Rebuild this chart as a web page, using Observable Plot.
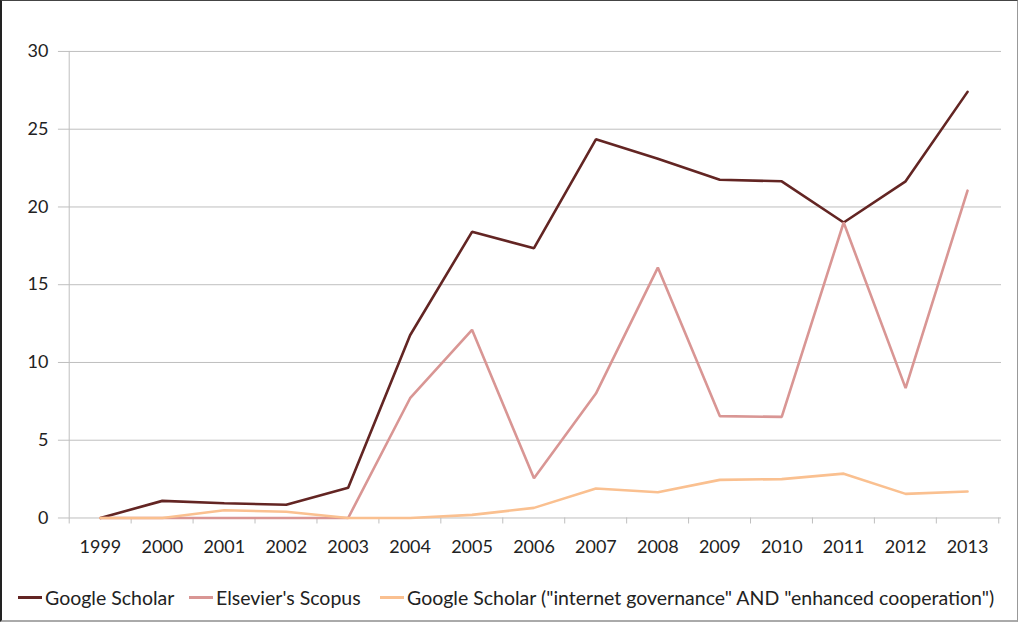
<!DOCTYPE html>
<html>
<head>
<meta charset="utf-8">
<script src="https://cdn.jsdelivr.net/npm/d3@7"></script>
<script src="https://cdn.jsdelivr.net/npm/@observablehq/plot@0.6"></script>
<style>
  html, body { margin: 0; padding: 0; background: #fff; }
  #frame { position: relative; width: 1015px; height: 619px; border-left: 2px solid #222; border-top: 1px solid #444; border-right: 1px solid #999; border-bottom: 2px solid #aaa; overflow: hidden; font-family: Lato, "Open Sans", sans-serif; }
  #chart { position: absolute; left: -2px; top: -1px; }
  .leg { position: absolute; top: 584px; height: 24px; font-size: 19.5px; color: #222; display: flex; align-items: center; white-space: nowrap; }
  .leg .sw { display: inline-block; width: 24px; height: 3px; margin-right: 3px; }
</style>
</head>
<body>
<div id="frame">
  <div id="chart"></div>
</div>
<script>
const years = ["1999","2000","2001","2002","2003","2004","2005","2006","2007","2008","2009","2010","2011","2012","2013"];
const googleScholar = [0, 1.1, 0.95, 0.85, 1.95, 11.75, 18.4, 17.35, 24.35, 23.1, 21.75, 21.65, 19.0, 21.65, 27.4];
const scopus = [0, 0, 0, 0, 0, 7.7, 12.1, 2.55, 8.0, 16.1, 6.55, 6.5, 19.0, 8.35, 21.05];
const gsEnhanced = [0, 0, 0.5, 0.4, 0, 0, 0.2, 0.65, 1.9, 1.65, 2.45, 2.5, 2.85, 1.55, 1.7];
const seriesNames = ["Google Scholar", "Elsevier's Scopus", "Google Scholar (\"internet governance\" AND \"enhanced cooperation\")"];
const seriesColors = ["#632523", "#d99694", "#fac090"];
const yTicks = [0, 5, 10, 15, 20, 25, 30];

const allSeries = [googleScholar, scopus, gsEnhanced];
const data = [];
allSeries.forEach((vals, si) => {
  vals.forEach((v, i) => data.push({year: years[i], value: v, series: seriesNames[si]}));
});

const W = 1018, H = 562, mL = 65, mR = 16;
const step = (W - mL - mR) / years.length;

const chart = Plot.plot({
  width: W,
  height: H,
  marginLeft: mL,
  marginRight: mR,
  marginTop: 51,
  marginBottom: 44,
  style: {fontFamily: "Lato, 'Open Sans', sans-serif", fontSize: "18px", color: "#222"},
  x: {type: "point", domain: years, padding: 0.5, axis: null, label: null},
  y: {domain: [0, 30], axis: null, label: null},
  color: {domain: seriesNames, range: seriesColors},
  marks: [
    Plot.ruleY(yTicks, {y: d => d, stroke: "#bfbfbf", strokeWidth: 1, insetLeft: -7}),
    Plot.ruleX([years[0]], {x: d => d, dx: -step / 2, stroke: "#bfbfbf", strokeWidth: 1}),
    Plot.ruleX(years, {x: d => d, y1: 0, y2: 0, insetBottom: -6, dx: -step / 2, stroke: "#bfbfbf"}),
    Plot.ruleX([years[years.length - 1]], {x: d => d, y1: 0, y2: 0, insetBottom: -6, dx: step / 2, stroke: "#bfbfbf"}),
    Plot.axisY({ticks: yTicks, tickSize: 0, tickPadding: 17, fontSize: 18, label: null}),
    Plot.axisX({tickSize: 0, tickPadding: 22, fontSize: 18, label: null}),
    Plot.line(data, {x: "year", y: "value", z: "series", stroke: "series", strokeWidth: 2.6, strokeLinejoin: "miter"})
  ]
});
document.getElementById("chart").appendChild(chart);

const legX = [16, 187, 378];
const frame = document.getElementById("frame");
seriesNames.forEach((name, i) => {
  const el = document.createElement("div");
  el.className = "leg";
  el.style.left = legX[i] + "px";
  const sw = document.createElement("span");
  sw.className = "sw";
  sw.style.background = seriesColors[i];
  el.appendChild(sw);
  el.appendChild(document.createTextNode(name));
  frame.appendChild(el);
});
</script>
</body>
</html>
